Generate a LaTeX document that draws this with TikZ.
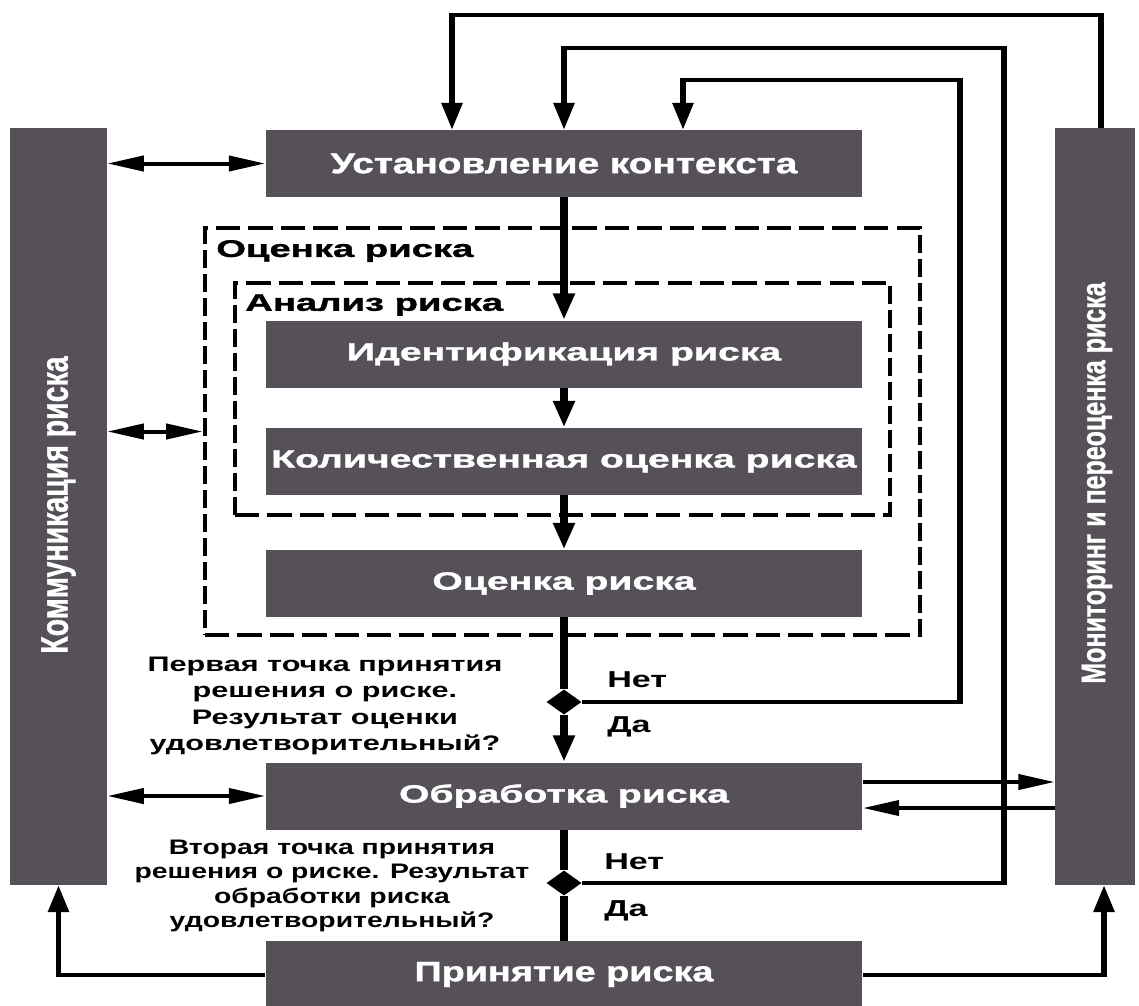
\documentclass[tikz,border=0pt]{standalone}
\usepackage{fontspec}
\setmainfont{Liberation Sans}
\newfontfamily\fA[FakeStretch=1.16,FakeBold=1.2]{Liberation Sans}
\newfontfamily\fB[FakeStretch=1.18,FakeBold=1.2]{Liberation Sans}
\newfontfamily\fC[FakeStretch=1.08]{Liberation Sans}
\newfontfamily\fD[FakeStretch=1.10]{Liberation Sans}
\newfontfamily\fE[FakeBold=1.2]{Liberation Sans}
\usetikzlibrary{arrows.meta,shapes.geometric}
\definecolor{boxc}{RGB}{86,80,88}
\newcommand{\fsz}[2]{\fontsize{#1}{#2}\selectfont\bfseries}
\begin{document}
\begin{tikzpicture}
\useasboundingbox[fill=white] (0,0) rectangle (1139pt,-1005pt);
\begin{scope}[transform canvas={xscale=1.35}, x=0.740741pt, y=-1pt,
  >={Triangle[length=27pt,width=15pt]},
  box/.style={fill=boxc, text=white, inner sep=0pt, minimum width=442.2pt, minimum height=67pt, font=\fA\fsz{25}{30}},
  bar/.style={fill=boxc, text=white, inner sep=0pt, minimum height=757pt},
  vtxt/.style={inner sep=0pt, text=white},
  dbox/.style={draw, line width=3.5pt, dash pattern=on 18pt off 6pt, inner sep=0pt},
  lbl/.style={inner sep=0pt, anchor=west, font=\fB\fsz{24}{28}},
  dec/.style={inner sep=0pt, align=center, font=\fC\fsz{21}{26.5}},
  yn/.style={inner sep=0pt, anchor=west, font=\fD\fsz{23}{27}},
  ln/.style={line width=4pt},
  mn/.style={line width=5.5pt},
  dia/.style={diamond, fill=black, inner sep=0pt, minimum width=26pt, minimum height=25pt}]

% side bars
\node[bar, minimum width=71.9pt] (comm) at (58.5,506.5) {};
\node[vtxt] (commtxt) at (58.5,505) {\rotatebox{90}{\fE\fsz{28.5}{30}Коммуникация риска}};
\node[bar, minimum width=59.3pt] (mon) at (1095,506.5) {};
\node[vtxt] (montxt) at (1097,483) {\rotatebox{90}{\fE\fsz{25}{30}Мониторинг и переоценка риска}};

% dashed frames
\node[dbox, minimum width=529.6pt, minimum height=407pt] (outer) at (562.5,431.5) {};
\node[dbox, minimum width=485.2pt, minimum height=232pt] (inner) at (562.5,399) {};
\node[lbl] (outerlbl) at (216,251) {Оценка риска};
\node[lbl] (innerlbl) at (245,305) {Анализ риска};

% process boxes
\node[box, font=\fE\fsz{28.7}{30}] (ctx) at (564,163.5) {Установление контекста};
\node[box] (ident) at (564,354) {Идентификация риска};
\node[box] (quant) at (564,461.5) {Количественная оценка риска};
\node[box] (eval) at (564,583.5) {Оценка риска};
\node[box] (treat) at (564,796) {Обработка риска};
\node[box, font=\fE\fsz{28}{30}] (accept) at (564,974.5) {Принятие риска};

% decisions
\node[dia] (d1) at (564,702) {};
\node[dia] (d2) at (564,883) {};
\node[dec] (q1) at (325,706) {Первая точка принятия\\решения о риске.\\Результат оценки\\удовлетворительный?};
\node[dec, font=\fsz{21}{24.5}] (q2) at (332,886) {Вторая точка принятия\\решения о риске. Результат\\обработки риска\\удовлетворительный?};
\node[yn] (no1) at (607,680) {Нет};
\node[yn] (yes1) at (607,727) {Да};
\node[yn] (no2) at (604,862) {Нет};
\node[yn] (yes2) at (604,911) {Да};

% coordinates for loops
\coordinate (k1) at (452,15);
\coordinate (k1r) at (1101,15);
\coordinate (k2) at (1004,48);
\coordinate (k3) at (960,80);
\coordinate (k3l) at (683,80);
\coordinate (kr) at (1104,974.5);

% main flow
\draw[mn,->] (ctx.south) -- (ident.north);
\draw[mn,->] (ident.south) -- (quant.north);
\draw[mn,->] (quant.south) -- (eval.north);
\draw[mn] (eval.south) -- (d1.north);
\draw[mn,->] (d1.south) -- (treat.north);
\draw[mn] (treat.south) -- (d2.north);
\draw[mn] (d2.south) -- (accept.north);

% feedback loops
\draw[ln,->] (d1.east) -| (k3) -- (k3l) -- (k3l |- ctx.north);
\draw[ln,->] (d2.east) -| (k2) -| (ctx.north);
\draw[ln,->] (k1r |- mon.north) -- (k1r) -- (k1) -- (k1 |- ctx.north);

% communication
\draw[ln,<->] (comm.east |- ctx) -- (ctx.west);
\draw[ln,<->] (comm.east |- outer) -- (outer.west);
\draw[ln,<->] (comm.east |- treat) -- (treat.west);

% monitoring
\draw[ln,->] ([yshift=14pt]treat.east) -- ([yshift=14pt]treat.east -| mon.west);
\draw[ln,->] ([yshift=-12pt]treat.east -| mon.west) -- ([yshift=-12pt]treat.east);

% acceptance
\draw[ln,->] (accept.west) -| (comm.south);
\draw[ln,->] (accept.east) -- (kr) -- (kr |- mon.south);
\end{scope}
\end{tikzpicture}
\end{document}
